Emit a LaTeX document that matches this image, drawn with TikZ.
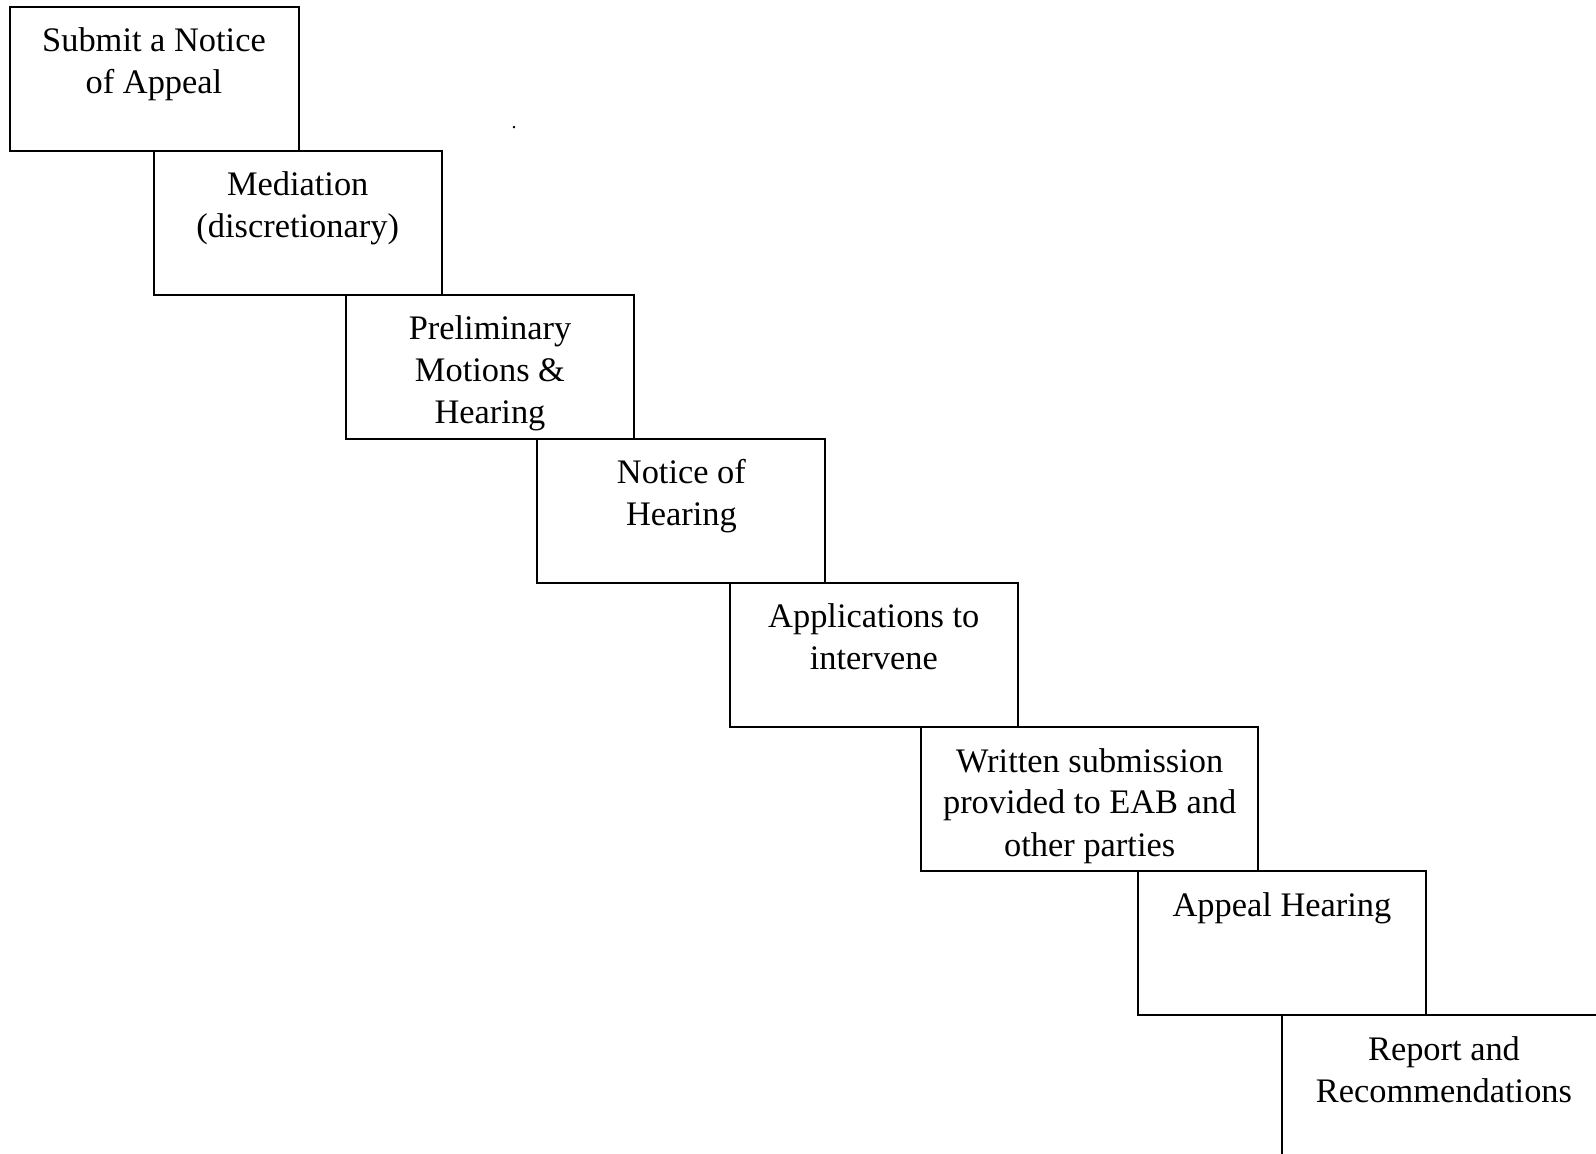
\documentclass[tikz,border=0pt]{standalone}
\usepackage{fontspec}
\setmainfont{Liberation Serif}
\newcommand{\stepbody}[2]{\parbox[c][72pt][t]{#1}{\centering\fontsize{17.2}{21}\selectfont\rule{0pt}{22.5pt}#2}}
\begin{document}
\begin{tikzpicture}[x=0.5pt,y=-0.5pt,
  stepbox/.style={draw, line width=1pt, inner sep=0pt, outer sep=0pt, anchor=north west}]
\useasboundingbox (0,0) rectangle (1596,1154);
\node[stepbox] (s1) at (9.5,7)    {\stepbody{144.5pt}{Submit a Notice\\of Appeal}};
\node[stepbox] (s2) at (153.7,151) {\stepbody{144pt}{Mediation\\(discretionary)}};
\node[stepbox] (s3) at (346,295)  {\stepbody{144pt}{Preliminary\\Motions \&\\Hearing}};
\node[stepbox] (s4) at (537.4,439) {\stepbody{144pt}{Notice of\\Hearing}};
\node[stepbox] (s5) at (729.8,583) {\stepbody{144pt}{Applications to\\intervene}};
\node[stepbox] (s6) at (921.2,727) {\stepbody{168.5pt}{Written submission\\provided to EAB and\\other parties}};
\node[stepbox] (s7) at (1138,871) {\stepbody{144pt}{Appeal Hearing}};
\node[stepbox] (s8) at (1281.5,1015) {\stepbody{162.5pt}{Report and\\Recommendations}};
\node[font=\fontsize{10}{11}\selectfont, inner sep=0pt, anchor=base] (stray) at (514,129) {.};
\end{tikzpicture}
\end{document}
